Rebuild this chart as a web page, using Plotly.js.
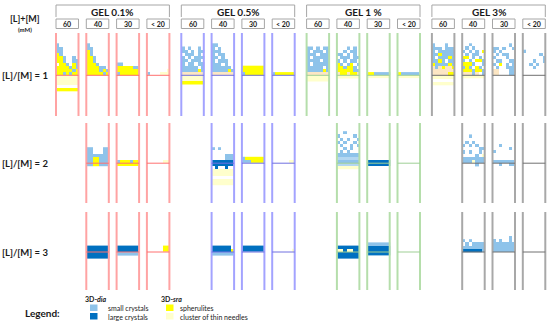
<!DOCTYPE html>
<html><head><meta charset="utf-8">
<script src="https://cdn.plot.ly/plotly-3.0.1.min.js"></script>
<style>html,body{margin:0;padding:0;background:#fff}#chart{width:550px;height:325px}</style>
</head><body><div id="chart"></div>
<script>
// ---------- labels ----------
const gelLabels = ["GEL 0.1%", "GEL 0.5%", "GEL 1 %", "GEL 3%"];
const concLabels = ["60", "40", "30", "< 20"];
const ratioLabels = ["[L]/[M] = 1", "[L]/[M] = 2", "[L]/[M] = 3"];
const legendLabels = ["small crystals", "large crystals", "spherulites", "cluster of thin needles"];

// ---------- cell codes ----------
// . empty | b small crystals | B large crystals | y spherulites | n thin needles | o interface deposit | c pale crystal layer
const codeKeys = ["b", "B", "y", "n", "o", "c"];
const codeColors = ["#8EC3EA", "#0070C0", "#FFFF00", "#FFFFCC", "#FCE6C3", "#B3D7F1"];

// ---------- observations: [ratio row, gel, concentration, rows above interface, rows below] ----------
const r1_gel01 = [
  [0, 0, 0, ["b......","bb.....","bb.....","yb.....","yyb..b.","yyb..bb",".yyb.yb","yyyybyb","yyyyyby","yybybyy"], ["nnnnnnn","nnnnnnn","nnnnnnn",".......","yyyyyyy"]],
  [0, 0, 1, ["b......","bb.....","yb.....","yb.....","yyb....","yyb....","yyyb...","yyyybb.","yyyybyb","yyyyyby"], []],
  [0, 0, 2, ["bb.....","yyyyybb","yyyyyyy","byyyyyy"], []],
  [0, 0, 3, ["......n","b...nnn"], []]
];
const r1_gel05 = [
  [0, 1, 0, ["b.b..b.","bb.b.bb",".bbb.b.","b.b.bbb","bb.bbb.","b.bb.bb","bbbbb.b","bbbbbyb","ooooooo"], ["nnnnnnn","nnnnnnn","yyyyyyy"]],
  [0, 1, 1, ["bb.....","b.b....","bbb....","b.bb...","bb.b...","b.bbb..","bbb.b..","bbbbbb.","bbbbbyb","ooooooo"], []],
  [0, 1, 2, ["yyyyyyy","yyyyyyy","byyyyyy"], []],
  [0, 1, 3, ["byyyyyy"], []]
];
const r1_gel1 = [
  [0, 2, 0, ["bb.b.bb","b.bbb.b","bbb.bbb","b.bbbbb","bbbb.bb","b.bbbbb","bbbbb.b","bbbbbyb","ooooooo"], ["nnnnnnn","nnnnnnn"]],
  [0, 2, 1, ["...b.b.","..b.bb.","bb.b.b.",".bbb.bb","b.b.bb.","yb.by.b","yybyyb.","yyyyybb","oyyoyyo"], ["nnnnnnn"]],
  [0, 2, 2, ["yybbbbb"], ["nnnnnnn"]],
  [0, 2, 3, ["ybbbbbb"], ["nnnnnnn"]]
];
const r1_gel3 = [
  [0, 3, 0, ["b...b..","bbb.bbb","b.bbbbb","bbybbbb","b.bbbyb","bbyb.bb","ybbbbyb","oboyooy","ooooooo","oooooyy"], ["nnnnnnn",".......","nnnnnnn"]],
  [0, 3, 1, ["..b....",".b.b...","b.b.b.y",".b.bb..","yy.b.b.","b.b.yyb","yyyb..b","byb.yb.","yyybyyb","ooobo.b"], ["nnnnnnn"]],
  [0, 3, 2, [".....b.","bb.b..b","b.b....",".b.bb..","b...b..",".bb..bb","b.y.b.b",".b..bbb","oo...bb","oo...bb"], []],
  [0, 3, 3, ["b......",".....b.","......b","...b..b","..b.b..","...b...",".......","......."], []]
];
const r2_obs = [
  [1, 0, 1, ["bb...bb","bb...bb","bbbbbbb","bbyybbb","bbyybbb"], ["bbyybbb"]],
  [1, 0, 2, ["byyybyy"], ["yyyyyyy"]],
  [1, 0, 3, [".....nn"], []],
  [1, 1, 1, ["b.b....",".......","....bbb","....bbb","BBBBBBB"], ["BBBBBBB",".B..B..","nnnnnnn","nnnnnnn",".......","nnnnnnn","nnnnnnn"]],
  [1, 1, 2, ["byyyyyy","bbbyyyy"], []],
  [1, 1, 3, [".....nn"], []],
  [1, 2, 1, ["..b....","b....b.",".b.b..b","b.b..b.",".b..b.b","..b.b..",".b.b...","bbbbbbb","ccccccc","bbbbbbb"], ["ccccccc","nnnnnnn"]],
  [1, 2, 2, ["BBBBBBB"], ["BBBBBBB"]],
  [1, 3, 1, ["..b....",".......",".b.b...","b.b.b..",".....bb","b.b..b.","....b.n","bbbbbbb","bbbnbbb"], ["....b.."]],
  [1, 3, 2, ["..b....",".....b.","b......",".......",".......","bbbbbbb"], ["..b..bb"]]
];
const r3_obs = [
  [2, 0, 1, ["BBBBBBB","BBBBBBB"], ["BBBBBBB","BBBBBBB"]],
  [2, 0, 2, ["BBBBBBB","BBBBBBB"], ["bbbbbbb"]],
  [2, 0, 3, [".....yy",".....yy"], []],
  [2, 1, 1, ["BBBBBB.","BBBBBBy"], ["bbbbbbb"]],
  [2, 1, 2, ["BBBBBBB","BBBBBBB"], []],
  [2, 1, 3, ["......n"], []],
  [2, 2, 1, ["BBBBBBB","nnBnnBB"], ["BBBBBBB","BBBBBBB"]],
  [2, 2, 2, ["bbbbbbb","BBBBBBB","BBBBBBB"], ["BBBBBBB"]],
  [2, 3, 1, ["b.b....",".b.bbbb","bbbbbbb","BBBBBBb"], []],
  [2, 3, 2, [".....b.","b.b..b.","bbbbbbb","bbbbbbb","bbbbbbb"], []]
];

// ---------- layout geometry ----------
const FONT = 'Lato, "Open Sans", sans-serif';
const TUBE_W = 22.5, NCOL = 7, CELL_W = TUBE_W / NCOL, CELL_H = 3.2;
const tubeLeft = (g, t) => 56 + g * 125.3 + t * 30.3;
const interfaceY = [75.3, 163.2, 252];
const tubeSpan = [[33, 116], [123, 203], [212, 290]];
const frameColors = ["#FFA3A3", "#A3A3FF", "#B5DEAB", "#A8A8A8"];
const interfaceColors = ["#FF7070", "#7070E0", "#9FCF95", "#707070"];
const headerGray = "#A6A6A6";

// discrete colour scale
const N = codeColors.length;
const colorscale = [];
codeColors.forEach((c, i) => { colorscale.push([i / N, c]); colorscale.push([(i + 1) / N, c]); });

const traces = [];
[...r1_gel01, ...r1_gel05, ...r1_gel1, ...r1_gel3, ...r2_obs, ...r3_obs].forEach(([r, g, t, above, below]) => {
  const rows = above.concat(below);
  const z = rows.map(s => s.split("").map(ch => { const k = codeKeys.indexOf(ch); return k < 0 ? null : k + 1; }));
  traces.push({
    type: "heatmap", z: z,
    x0: tubeLeft(g, t) + CELL_W / 2, dx: CELL_W,
    y0: interfaceY[r] - above.length * CELL_H + CELL_H / 2, dy: CELL_H,
    zmin: 0.5, zmax: N + 0.5, colorscale: colorscale, showscale: false,
    hoverinfo: "skip", zsmooth: false
  });
});

const shapes = [];
const annotations = [];
const txt = (x, y, text, size, opts) => annotations.push(Object.assign({
  x: x, y: y, xref: "x", yref: "y", text: text, showarrow: false,
  font: { family: FONT, size: size, color: "#1a1a1a" }, xanchor: "center", yanchor: "middle"
}, opts || {}));

// header
for (let g = 0; g < 4; g++) {
  const L = tubeLeft(g, 0), R = Math.min(tubeLeft(g, 3) + TUBE_W, 549);
  shapes.push({ type: "path", path: `M ${L} 17 L ${L} 5 L ${R} 5 L ${R} 17`, line: { color: headerGray, width: 1 }, layer: "above" });
  txt((L + R) / 2, 11.5, "<b>" + gelLabels[g] + "</b>", 10);
  for (let t = 0; t < 4; t++) {
    const x = tubeLeft(g, t);
    const xr = Math.min(x + TUBE_W, 549);
    shapes.push({ type: "rect", x0: x, x1: xr, y0: 19, y1: 28.5, line: { color: headerGray, width: 1 }, fillcolor: "rgba(0,0,0,0)", layer: "above" });
    txt((x + xr) / 2, 23.8, "<b>" + concLabels[t] + "</b>", 7);
  }
}
txt(25, 18, "<b>[L]+[M]</b>", 9);
txt(25, 29, "<b>(mM)</b>", 6);

// tubes
for (let r = 0; r < 3; r++) {
  txt(25, interfaceY[r], "<b>" + ratioLabels[r] + "</b>", 9.5);
  for (let g = 0; g < 4; g++) {
    for (let t = (r === 0 ? 0 : 1); t < 4; t++) {
      const x = tubeLeft(g, t);
      [x, x + TUBE_W].forEach(xx => shapes.push({ type: "line", x0: xx, x1: xx, y0: tubeSpan[r][0], y1: tubeSpan[r][1], line: { color: frameColors[g], width: 2 }, layer: "above" }));
      shapes.push({ type: "line", x0: x, x1: x + TUBE_W, y0: interfaceY[r], y1: interfaceY[r], line: { color: interfaceColors[g], width: 1 }, layer: "above" });
    }
  }
}

// legend
txt(42, 313, "<b>Legend:</b>", 10);
txt(83, 299, "<b>3D-<i>dia</i></b>", 7, { xanchor: "left" });
txt(159, 299, "<b>3D-<i>sra</i></b>", 7, { xanchor: "left" });
const legendSw = [[90, 304.5, 0], [90, 313, 1], [166, 304.5, 2], [166, 313, 3]];
legendSw.forEach(([x, y, k], i) => {
  shapes.push({ type: "rect", x0: x, x1: x + 7.5, y0: y, y1: y + 6.5, fillcolor: codeColors[k], line: { width: 0 } });
  txt(x + (k < 2 ? 16 : 12), y + 3.5, legendLabels[i], 7, { xanchor: "left" });
});

Plotly.newPlot("chart", traces, {
  width: 550, height: 325, margin: { l: 0, r: 0, t: 0, b: 0 },
  paper_bgcolor: "#fff", plot_bgcolor: "#fff",
  xaxis: { range: [0, 550], visible: false, fixedrange: true },
  yaxis: { range: [325, 0], visible: false, fixedrange: true },
  shapes: shapes, annotations: annotations, showlegend: false
}, { staticPlot: true, displayModeBar: false });
</script></body></html>
